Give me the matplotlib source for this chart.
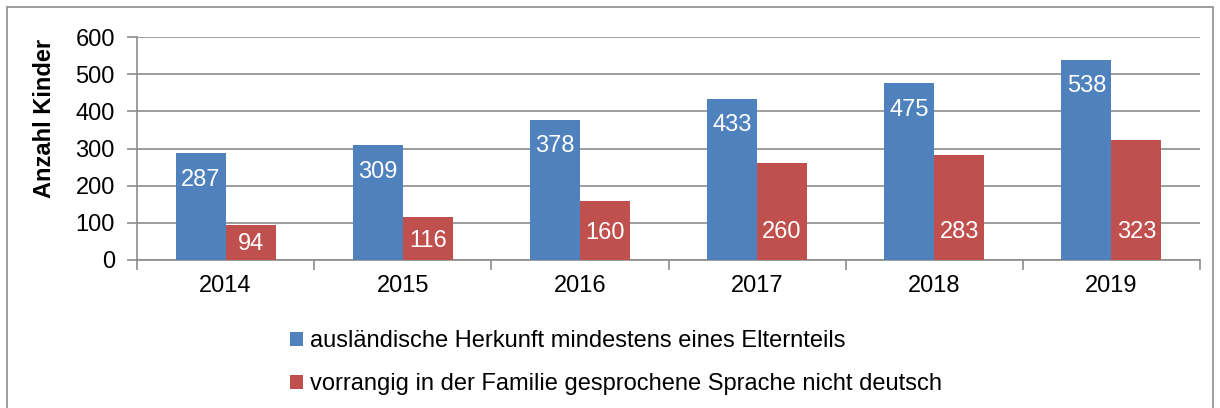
import matplotlib.pyplot as plt
import matplotlib.patches as mpatches
import numpy as np

plt.rcParams['font.family'] = ['Liberation Sans', 'DejaVu Sans']

years = ["2014", "2015", "2016", "2017", "2018", "2019"]
herkunft = [287, 309, 378, 433, 475, 538]
sprache = [94, 116, 160, 260, 283, 323]
series_names = ["ausländische Herkunft mindestens eines Elternteils",
                "vorrangig in der Familie gesprochene Sprache nicht deutsch"]

blue = "#4F81BD"
red = "#C0504D"
grid_col = "#8C8C8C"
fs = 17

fig = plt.figure(figsize=(12.2, 4.08), dpi=100)
ax = fig.add_axes([137/1220, 1 - 260/408, (1200-137)/1220, (260-37)/408])

# outer frame
fig.patches.append(mpatches.Rectangle((7/1220, -0.1), (1213-7)/1220, 1.1 - 7/408,
                                      transform=fig.transFigure, fill=False,
                                      edgecolor="#8C8C8C", linewidth=1.2))

x = np.arange(len(years))
w = 0.2825
b1 = ax.bar(x - w/2, herkunft, w, color=blue, label=series_names[0], zorder=3)
b2 = ax.bar(x + w/2, sprache, w, color=red, label=series_names[1], zorder=3)

# value labels (white, inside)
for xi, v in zip(x, herkunft):
    ax.annotate(str(v), (xi - w/2, v), xytext=(0, -19), textcoords="offset points",
                ha="center", va="center", color="white", fontsize=fs, zorder=4)
for xi, v in zip(x, sprache):
    ax.text(xi + w/2, min(v*0.45, 75), str(v), ha="center", va="center",
            color="white", fontsize=fs, zorder=4)

ax.set_ylim(0, 600)
ax.set_xlim(-0.5, len(years) - 0.5)
ax.set_yticks(range(0, 601, 100))
ax.yaxis.grid(True, color=grid_col, linewidth=1.2, zorder=0)
ax.set_axisbelow(True)

ax.set_xticks(x)
ax.set_xticklabels(years, fontsize=fs)
ax.set_xticks(np.arange(-0.5, len(years)), minor=True)
ax.tick_params(axis="x", which="major", length=0, pad=11)
ax.tick_params(axis="x", which="minor", length=7, color=grid_col, width=1.2)
ax.tick_params(axis="y", length=7, color=grid_col, width=1.2, labelsize=fs, pad=9)

for s in ["top", "right"]:
    ax.spines[s].set_visible(False)
for s in ["left", "bottom"]:
    ax.spines[s].set_color(grid_col)
    ax.spines[s].set_linewidth(1.2)

ax.set_ylabel("Anzahl Kinder", fontsize=fs, fontweight="bold")
ax.yaxis.set_label_coords(45/1220, 1 - 118/408, transform=fig.transFigure)
ax.yaxis.label.set_va("center")

fig.legend(handles=[b1, b2], loc="upper left", bbox_to_anchor=(290/1220, 1 - 330/408),
           frameon=False, fontsize=fs, handlelength=0.55, handleheight=0.55,
           handletextpad=0.3, labelspacing=0.9, borderpad=0, borderaxespad=0)

fig.savefig("out.png", dpi=100)
